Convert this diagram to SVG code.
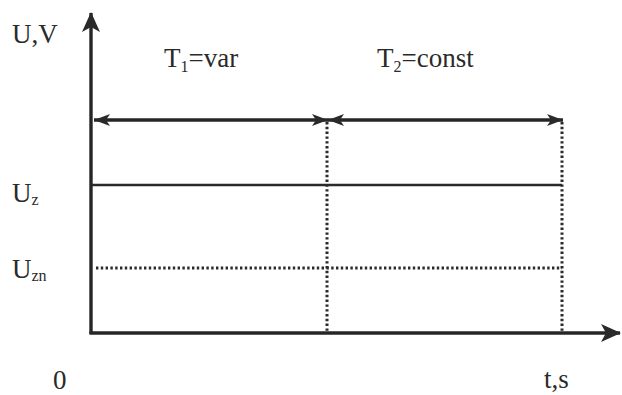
<svg xmlns="http://www.w3.org/2000/svg" width="622" height="395" viewBox="0 0 622 395">
  <style>
    text { font-family: "Liberation Serif", "DejaVu Serif", "Times New Roman", serif; font-size: 27px; fill: #2a2a2a; }
    .sub { font-size: 16px; }
    .axis { stroke: #262626; stroke-width: 3.4; fill: none; }
    .solid { stroke: #2a2a2a; stroke-width: 2.6; fill: none; }
    .dot { stroke: #2a2a2a; stroke-width: 3; stroke-dasharray: 2.4 2.4; fill: none; }
    .head { fill: #2a2a2a; }
  </style>
  <defs>
    <marker id="axhead" viewBox="0 0 20 18" refX="19" refY="9" markerWidth="20" markerHeight="18" markerUnits="userSpaceOnUse" orient="auto">
      <path d="M0,0 L20,9 L0,18 L5,9 Z" class="head"/>
    </marker>
    <marker id="dim" viewBox="0 0 16 12" refX="16" refY="6" markerWidth="16" markerHeight="12" markerUnits="userSpaceOnUse" orient="auto-start-reverse">
      <path d="M0,0 L16,6 L0,12 L4,6 Z" class="head"/>
    </marker>
  </defs>

  <!-- axes -->
  <g id="axes">
    <line class="axis" x1="91" y1="334" x2="91" y2="13" marker-end="url(#axhead)"/>
    <line class="axis" x1="89.5" y1="333" x2="620" y2="333" marker-end="url(#axhead)"/>
  </g>

  <g id="connectors">
    <!-- period spans -->
    <line class="axis" x1="94" y1="120" x2="328" y2="120" marker-start="url(#dim)" marker-end="url(#dim)"/>
    <line class="axis" x1="328" y1="120" x2="563" y2="120" marker-start="url(#dim)" marker-end="url(#dim)"/>
    <!-- period boundaries -->
    <line class="dot" x1="327" y1="122" x2="327" y2="332"/>
    <line class="dot" x1="562" y1="122" x2="562" y2="332"/>
    <!-- voltage levels -->
    <line class="solid" x1="92" y1="185" x2="562" y2="185"/>
    <line class="dot" x1="96" y1="268" x2="562" y2="268"/>
  </g>

  <!-- labels -->
  <g id="labels">
    <text x="12" y="43">U,V</text>
    <text x="164" y="67">T<tspan class="sub" dy="5">1</tspan><tspan dy="-5">=var</tspan></text>
    <text x="377" y="67">T<tspan class="sub" dy="5">2</tspan><tspan dy="-5">=const</tspan></text>
    <text x="12" y="202">U<tspan class="sub" dy="3">z</tspan></text>
    <text x="12" y="278">U<tspan class="sub" dy="3">zn</tspan></text>
    <text x="53" y="389">0</text>
    <text x="544" y="388">t,s</text>
  </g>
</svg>
